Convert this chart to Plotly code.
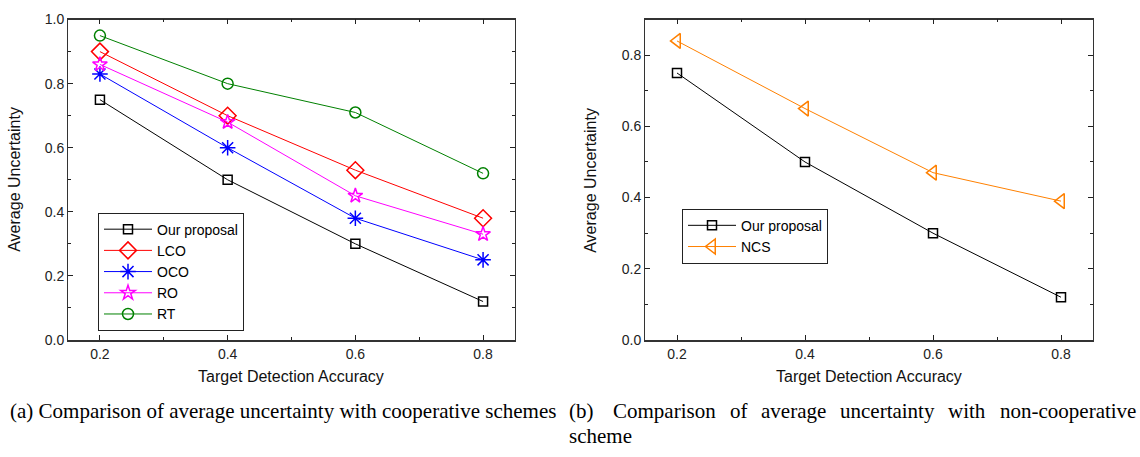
import plotly.graph_objects as go

W, H = 1140, 457

x_vals = [0.2, 0.4, 0.6, 0.8]
ours = [0.75, 0.50, 0.30, 0.12]
lco = [0.90, 0.70, 0.53, 0.38]
oco = [0.83, 0.60, 0.38, 0.25]
ro = [0.86, 0.68, 0.45, 0.33]
rt = [0.95, 0.80, 0.71, 0.52]
ncs = [0.84, 0.65, 0.47, 0.39]

x_ticks = [0.2, 0.4, 0.6, 0.8]
left_y_ticks = [0.0, 0.2, 0.4, 0.6, 0.8, 1.0]
right_y_ticks = [0.0, 0.2, 0.4, 0.6, 0.8]

SANS = "Liberation Sans, Arial, sans-serif"
SERIF = "Liberation Serif, Times New Roman, serif"

def px_x(p):
    return p / W

def px_y(p):
    return 1 - p / H

fig = go.Figure()

left_series = [
    ("Our proposal", ours, "black", "square-open", 9),
    ("LCO", lco, "#ff0000", "diamond-open", 13),
    ("OCO", oco, "#0000ff", "asterisk-open", 13),
    ("RO", ro, "#ff00ff", "star-open", 11),
    ("RT", rt, "#008000", "circle-open", 11),
]
for name, ys, col, sym, sz in left_series:
    fig.add_trace(go.Scatter(
        x=x_vals, y=ys, name=name, mode="lines+markers",
        line=dict(color=col, width=1),
        marker=dict(symbol=sym, size=sz, color=col, line=dict(color=col, width=1.5)),
        xaxis="x", yaxis="y", legend="legend",
    ))

right_series = [
    ("Our proposal", ours, "black", "square-open", 9),
    ("NCS", ncs, "#ff8000", "triangle-left-open", 13),
]
for name, ys, col, sym, sz in right_series:
    fig.add_trace(go.Scatter(
        x=x_vals, y=ys, name=name, mode="lines+markers",
        line=dict(color=col, width=1),
        marker=dict(symbol=sym, size=sz, color=col, line=dict(color=col, width=1.5)),
        xaxis="x2", yaxis="y2", legend="legend2",
    ))

def axis_common(lw):
    return dict(
        showline=True, linecolor="#333", linewidth=lw, mirror="ticks",
        ticks="inside", ticklen=5, tickcolor="#222", tickwidth=1,
        showgrid=False, zeroline=False,
        tickfont=dict(family=SANS, size=14, color="#222"),
        minor=dict(ticks="inside", ticklen=3, tickcolor="#222", dtick=0.1, showgrid=False),
    )

legend_common = dict(xanchor="left", yanchor="top",
                     bordercolor="#222", borderwidth=1, bgcolor="white",
                     font=dict(family=SANS, size=14, color="black"),
                     tracegroupgap=0, itemwidth=48)

fig.update_layout(
    width=W, height=H,
    margin=dict(l=0, r=0, t=0, b=0),
    paper_bgcolor="white", plot_bgcolor="white",
    xaxis=dict(domain=[px_x(68), px_x(515)], range=[0.15, 0.85],
               tickvals=x_ticks, ticktext=[f"{v:.1f}" for v in x_ticks],
               anchor="y", **axis_common(1.5)),
    yaxis=dict(domain=[px_y(344), px_y(12)], range=[0, 1.0],
               tickvals=left_y_ticks, ticktext=[f"{v:.1f}" for v in left_y_ticks],
               anchor="x", **axis_common(1)),
    xaxis2=dict(domain=[px_x(645), px_x(1093)], range=[0.15, 0.85],
                tickvals=x_ticks, ticktext=[f"{v:.1f}" for v in x_ticks],
                anchor="y2", **axis_common(1.5)),
    yaxis2=dict(domain=[px_y(344), px_y(12)], range=[0, 0.9],
                tickvals=right_y_ticks, ticktext=[f"{v:.1f}" for v in right_y_ticks],
                anchor="x2", **axis_common(1)),
    legend=dict(x=px_x(98), y=px_y(212), **legend_common),
    legend2=dict(x=px_x(682), y=px_y(208), **legend_common),
    showlegend=True,
)

annotations = []
title_font = dict(family=SANS, size=16, color="#111")
for cx in (291, 869):
    annotations.append(dict(text="Target Detection Accuracy", x=px_x(cx), y=px_y(382),
                            xref="paper", yref="paper", showarrow=False,
                            xanchor="center", yanchor="middle", font=title_font))
for cx in (15, 591):
    annotations.append(dict(text="Average Uncertainty", x=px_x(cx), y=px_y(178),
                            xref="paper", yref="paper", showarrow=False, textangle=-90,
                            xanchor="center", yanchor="middle", font=title_font))

cap_font = dict(family=SERIF, size=21, color="black")
annotations.append(dict(text="(a) Comparison of average uncertainty with cooperative schemes",
                        x=px_x(558), y=px_y(418), xref="paper", yref="paper",
                        showarrow=False, xanchor="right", yanchor="middle", font=cap_font))
cap_b_words = ["(b)", "Comparison", "of", "average", "uncertainty", "with"]
cap_b_pos = [567, 611, 728, 759, 838, 946]
for wd, px in zip(cap_b_words, cap_b_pos):
    annotations.append(dict(text=wd, x=px_x(px), y=px_y(418), xref="paper", yref="paper",
                            showarrow=False, xanchor="left", yanchor="middle", font=cap_font))
annotations.append(dict(text="non-cooperative", x=px_x(1138), y=px_y(418), xref="paper",
                        yref="paper", showarrow=False, xanchor="right", yanchor="middle",
                        font=cap_font))
annotations.append(dict(text="scheme", x=px_x(567), y=px_y(444), xref="paper", yref="paper",
                        showarrow=False, xanchor="left", yanchor="middle", font=cap_font))

fig.update_layout(annotations=annotations)

fig.write_html("out.html")
